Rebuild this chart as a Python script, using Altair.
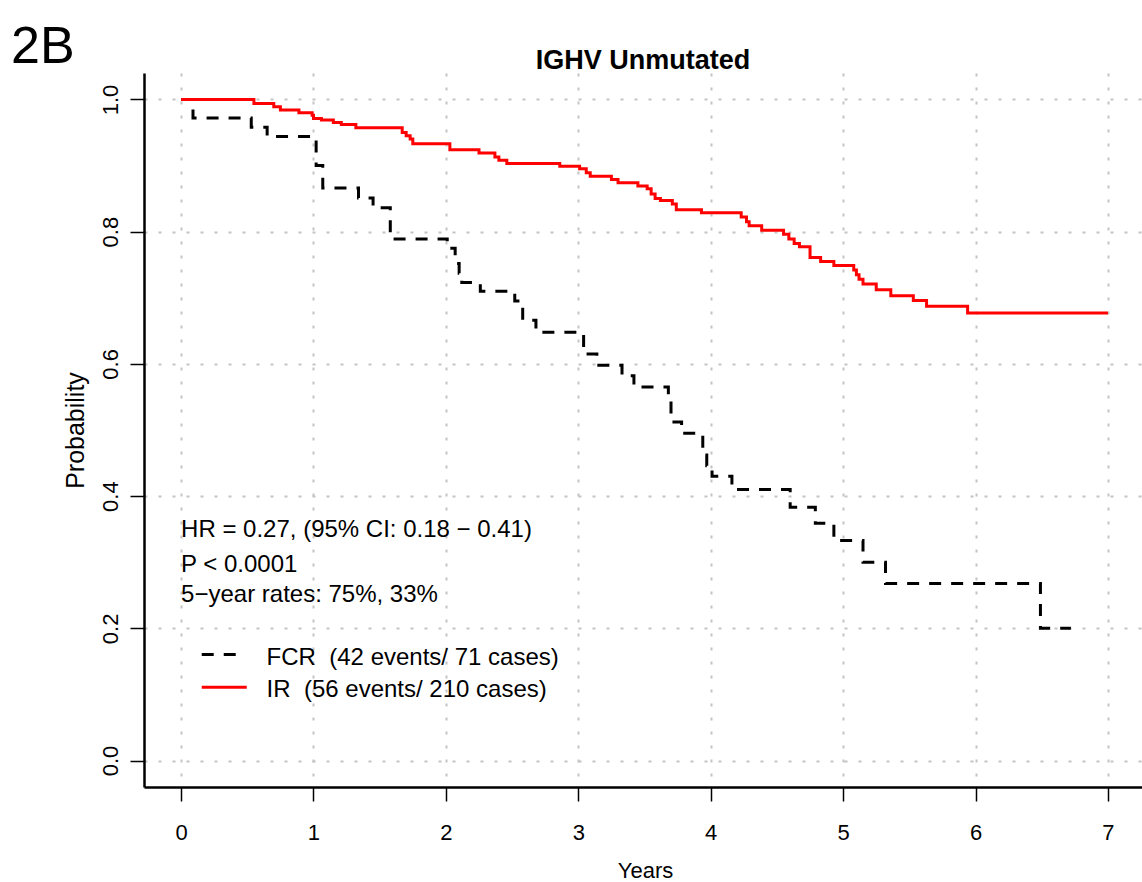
import altair as alt
import pandas as pd

# ---------------- data ----------------
fcr_years = [0, 0.09, 0.53, 0.65, 1.02, 1.07, 1.34, 1.45, 1.58, 2.01, 2.07, 2.10, 2.12,
             2.26, 2.52, 2.58, 2.68, 3.04, 3.14, 3.33, 3.42, 3.68, 3.70, 3.78, 3.94,
             3.97, 4.01, 4.16, 4.60, 4.79, 4.93, 5.15, 5.32, 6.49, 6.72]
fcr_prob = [1.0, 0.972, 0.958, 0.944, 0.900, 0.866, 0.851, 0.836, 0.789, 0.775, 0.752,
            0.737, 0.723, 0.710, 0.695, 0.666, 0.648, 0.615, 0.598, 0.582, 0.565, 0.547,
            0.512, 0.495, 0.462, 0.446, 0.430, 0.410, 0.383, 0.359, 0.333, 0.300, 0.268,
            0.200, 0.200]

ir_years = [0, 0.55, 0.70, 0.75, 0.89, 0.99, 1.00, 1.06, 1.15, 1.21, 1.32, 1.67, 1.70,
            1.73, 1.75, 2.03, 2.25, 2.37, 2.40, 2.46, 2.86, 3.01, 3.06, 3.09, 3.25, 3.30,
            3.45, 3.52, 3.55, 3.58, 3.62, 3.71, 3.74, 3.93, 4.23, 4.27, 4.29, 4.385,
            4.55, 4.59, 4.63, 4.67, 4.75, 4.83, 4.93, 5.08, 5.10, 5.12, 5.15, 5.25,
            5.36, 5.53, 5.63, 5.94, 7.0]
ir_prob = [1.0, 0.994, 0.989, 0.984, 0.980, 0.976, 0.971, 0.969, 0.965, 0.962, 0.957,
           0.950, 0.945, 0.940, 0.933, 0.924, 0.919, 0.913, 0.908, 0.903, 0.899, 0.895,
           0.889, 0.884, 0.879, 0.874, 0.869, 0.865, 0.857, 0.850, 0.847, 0.842, 0.833,
           0.8285, 0.822, 0.815, 0.809, 0.802, 0.796, 0.789, 0.782, 0.777, 0.761, 0.755,
           0.749, 0.742, 0.735, 0.728, 0.721, 0.712, 0.703, 0.696, 0.687, 0.677, 0.677]

x_ticks = [0, 1, 2, 3, 4, 5, 6, 7]
y_ticks = [0.0, 0.2, 0.4, 0.6, 0.8, 1.0]

stat_lines = ["HR = 0.27, (95% CI: 0.18 \u2212 0.41)", "P < 0.0001",
              "5\u2212year rates: 75%, 33%"]
stat_y = [0.3378, 0.2849, 0.2395]
stat_x = [0.0, 0.0, 0.0]

legend_labels = ["FCR\u00a0 (42 events/ 71 cases)", "IR\u00a0 (56 events/ 210 cases)"]
legend_text_x = [0.646, 0.646]
legend_text_y = [0.1452, 0.0968]
legend_line_x = [0.156, 0.156]
legend_line_x2 = [0.43, 0.496]
legend_line_y = [0.1604, 0.111]

title_text = "IGHV Unmutated"
panel_tag = "2B"

FONT = "Liberation Sans, Arial, Helvetica, sans-serif"
RED = "#ff0000"

# ---------------- scales & axes ----------------
x_scale = alt.Scale(domain=[-0.28, 7.257], nice=False, zero=False)
y_scale = alt.Scale(domain=[-0.04, 1.04], nice=False, zero=False)

x_axis = alt.Axis(
    values=x_ticks, title="Years", format="d",
    grid=True, gridDash=[3, 11], gridColor="#c4c4c4", gridWidth=2,
    domain=True, domainColor="black", domainWidth=2.5,
    ticks=True, tickSize=14, tickColor="black", tickWidth=1.5,
    labelFont=FONT, labelFontSize=22, labelColor="black",
    labelBaseline="alphabetic", labelPadding=38, labelFlush=False,
    titleFont=FONT, titleFontSize=22, titleFontWeight="normal", titleColor="black",
    titleX=501, titleY=90, titleBaseline="alphabetic", titleAlign="center",
)
y_axis = alt.Axis(
    values=y_ticks, title="Probability", format=".1f",
    grid=True, gridDash=[3, 11], gridColor="#c4c4c4", gridWidth=2,
    domain=True, domainColor="black", domainWidth=2.5,
    ticks=True, tickSize=14, tickColor="black", tickWidth=1.5,
    labelFont=FONT, labelFontSize=22, labelColor="black",
    labelAngle=270, labelAlign="center", labelBaseline="alphabetic",
    labelPadding=13, labelFlush=False,
    titleFont=FONT, titleFontSize=25, titleFontWeight="normal", titleColor="black",
    titleAngle=270, titleX=-69, titleY=357, titleAlign="center", titleBaseline="middle",
)

X = alt.X("x:Q", scale=x_scale, axis=x_axis)
Y = alt.Y("y:Q", scale=y_scale, axis=y_axis)

# ---------------- layers ----------------
df_fcr = pd.DataFrame({"x": fcr_years, "y": fcr_prob})
df_ir = pd.DataFrame({"x": ir_years, "y": ir_prob})

fcr_line = alt.Chart(df_fcr).mark_line(
    interpolate="step-after", color="black", strokeWidth=3, strokeDash=[12, 10]
).encode(x=X, y=Y)

ir_line = alt.Chart(df_ir).mark_line(
    interpolate="step-after", color=RED, strokeWidth=3
).encode(x=X, y=Y)

df_stats = pd.DataFrame({"x": stat_x, "y": stat_y, "label": stat_lines})
stats = alt.Chart(df_stats).mark_text(
    align="left", baseline="alphabetic", font=FONT, fontSize=24, color="black"
).encode(x=X, y=Y, text="label:N")

df_leg_text = pd.DataFrame({"x": legend_text_x, "y": legend_text_y, "label": legend_labels})
leg_text = alt.Chart(df_leg_text).mark_text(
    align="left", baseline="alphabetic", font=FONT, fontSize=24, color="black"
).encode(x=X, y=Y, text="label:N")

df_leg_fcr = pd.DataFrame({"x": [legend_line_x[0]], "x2": [legend_line_x2[0]], "y": [legend_line_y[0]]})
df_leg_ir = pd.DataFrame({"x": [legend_line_x[1]], "x2": [legend_line_x2[1]], "y": [legend_line_y[1]]})
leg_fcr = alt.Chart(df_leg_fcr).mark_rule(
    color="black", strokeWidth=3, strokeDash=[12, 10]
).encode(x=X, x2="x2:Q", y=Y)
leg_ir = alt.Chart(df_leg_ir).mark_rule(color=RED, strokeWidth=3).encode(x=X, x2="x2:Q", y=Y)

tag = alt.Chart(pd.DataFrame({"label": [panel_tag]})).mark_text(
    align="left", baseline="alphabetic", font=FONT,
    fontSize=52, color="black"
).encode(x=alt.value(-133), y=alt.value(-10), text="label:N")

title = alt.Chart(pd.DataFrame({"label": [title_text]})).mark_text(
    align="center", baseline="alphabetic", font=FONT,
    fontSize=27, fontWeight="bold", color="black"
).encode(x=alt.value(499), y=alt.value(-4.5), text="label:N")

chart = alt.layer(fcr_line, ir_line, stats, leg_fcr, leg_ir, leg_text, tag, title).properties(
    width=998, height=714,
    padding={"left": 144, "top": 73, "right": 0, "bottom": 95},
    autosize=alt.AutoSizeParams(type="none"),
    background="white",
).configure_view(stroke=None)

chart.save("out.html", embed_options={"renderer": "svg", "actions": False})
